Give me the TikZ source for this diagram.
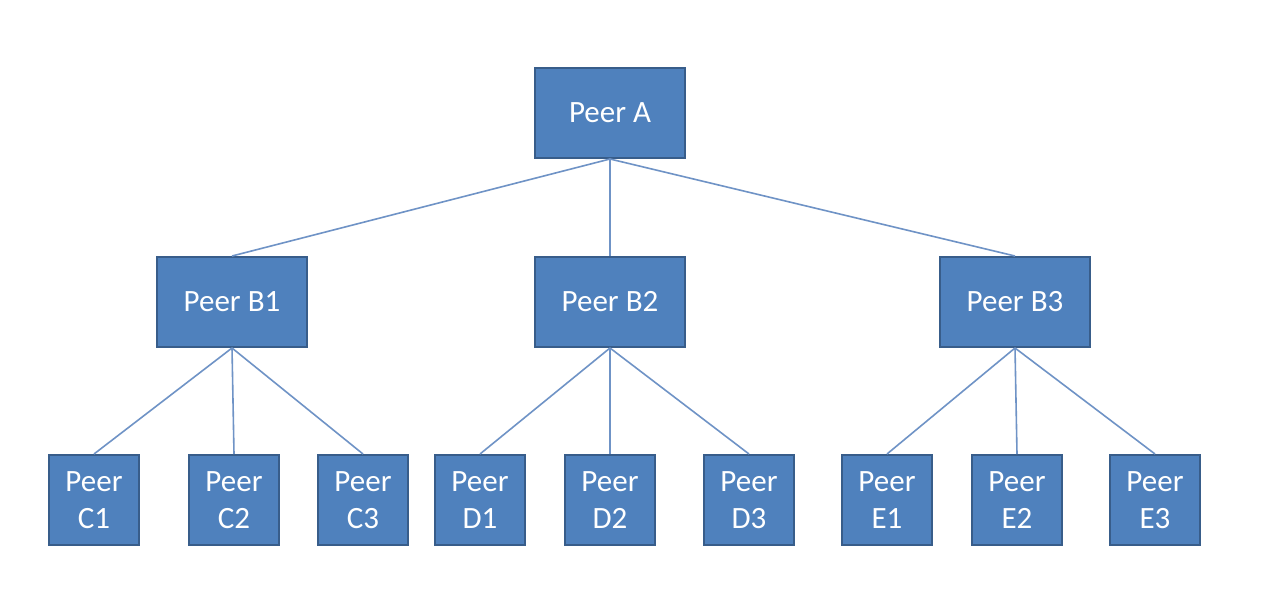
\documentclass[tikz,border=0pt]{standalone}
\usepackage{fontspec}
\setmainfont{Carlito}
\definecolor{boxfill}{HTML}{4F81BD}
\definecolor{boxdraw}{HTML}{385D8A}
\definecolor{linkcol}{HTML}{6F93C6}
\begin{document}
\begin{tikzpicture}[x=1pt,y=-1pt,
  peerbig/.style={draw=boxdraw, line width=2pt, fill=boxfill, minimum width=150pt, minimum height=90pt, inner sep=0pt, text=white, font=\fontsize{31}{37}\selectfont},
  peersmall/.style={draw=boxdraw, line width=2pt, fill=boxfill, minimum width=90pt, minimum height=90pt, inner sep=0pt, text=white, align=center, font=\fontsize{31}{37}\selectfont},
  link/.style={draw=linkcol, line width=1.6pt}]
\useasboundingbox[fill=white] (0,0) rectangle (1279,600);
\node[peerbig] (A) at (610,113) {Peer A};
\node[peerbig] (B1) at (232,302) {Peer B1};
\node[peerbig] (B2) at (610,302) {Peer B2};
\node[peerbig] (B3) at (1015,302) {Peer B3};
\node[peersmall] (C1) at (94,500) {Peer\\C1};
\node[peersmall] (C2) at (234,500) {Peer\\C2};
\node[peersmall] (C3) at (363,500) {Peer\\C3};
\node[peersmall] (D1) at (480,500) {Peer\\D1};
\node[peersmall] (D2) at (610,500) {Peer\\D2};
\node[peersmall] (D3) at (749,500) {Peer\\D3};
\node[peersmall] (E1) at (887,500) {Peer\\E1};
\node[peersmall] (E2) at (1017,500) {Peer\\E2};
\node[peersmall] (E3) at (1155,500) {Peer\\E3};
\foreach \c in {B1,B2,B3} \draw[link] (A.south) -- (\c.north);
\foreach \c in {C1,C2,C3} \draw[link] (B1.south) -- (\c.north);
\foreach \c in {D1,D2,D3} \draw[link] (B2.south) -- (\c.north);
\foreach \c in {E1,E2,E3} \draw[link] (B3.south) -- (\c.north);
\end{tikzpicture}
\end{document}
